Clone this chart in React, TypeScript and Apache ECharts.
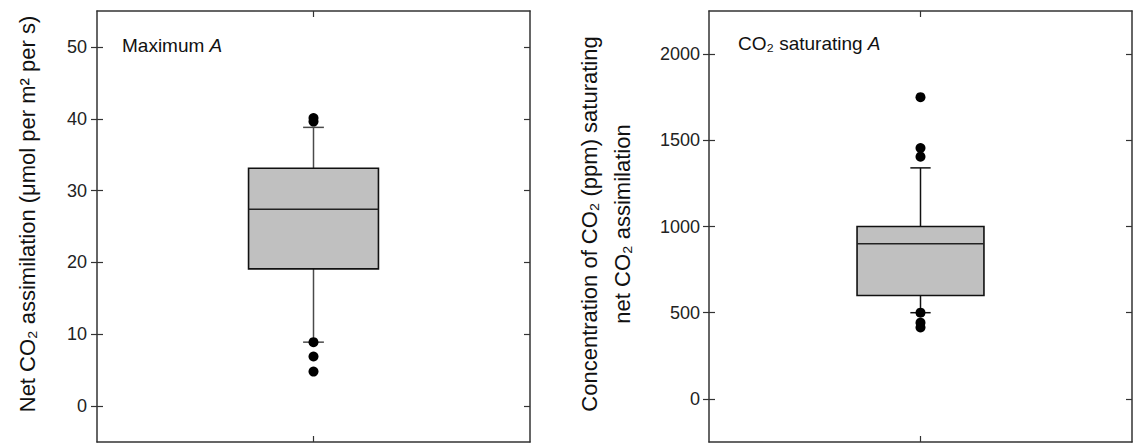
import React, { useEffect, useRef } from "react";
import * as echarts from "echarts";

// ---- data ----
const categoriesLeft = ["Maximum A"];
const categoriesRight = ["CO2 saturating A"];
// [category index, lower whisker, Q1, median, Q3, upper whisker]
const boxLeft = [[0, 8.9, 19.1, 27.4, 33.1, 38.8]];
const boxRight = [[0, 500, 600, 900, 1000, 1340]];
const outliersLeft = [[0, 40.1], [0, 39.6], [0, 8.9], [0, 6.9], [0, 4.8]];
const outliersRight = [[0, 1750], [0, 1455], [0, 1405], [0, 500], [0, 442], [0, 414]];
const ticksLeft = [0, 10, 20, 30, 40, 50];
const ticksRight = [0, 500, 1000, 1500, 2000];
const rangeLeft = [-5, 55];
const rangeRight = [-250, 2250];

const FONT = "'Liberation Sans', Arial, 'DejaVu Sans', sans-serif";
const AXIS_COLOR = "#333333";

function makeRender(whiskerColor: string) {
  return (params: any, api: any) => {
    const x = api.value(0);
    const low = api.coord([x, api.value(1)]);
    const q1 = api.coord([x, api.value(2)]);
    const med = api.coord([x, api.value(3)]);
    const q3 = api.coord([x, api.value(4)]);
    const high = api.coord([x, api.value(5)]);
    const band = api.size([1, 0])[0];
    const hw = band * 0.15;
    const cw = band * 0.024;
    const cx = med[0];
    return {
      type: "group",
      children: [
        { type: "line", shape: { x1: cx, y1: q3[1], x2: cx, y2: high[1] }, style: { stroke: whiskerColor, lineWidth: 1.5 } },
        { type: "line", shape: { x1: cx, y1: q1[1], x2: cx, y2: low[1] }, style: { stroke: whiskerColor, lineWidth: 1.5 } },
        { type: "line", shape: { x1: cx - cw, y1: high[1], x2: cx + cw, y2: high[1] }, style: { stroke: whiskerColor, lineWidth: 1.5 } },
        { type: "line", shape: { x1: cx - cw, y1: low[1], x2: cx + cw, y2: low[1] }, style: { stroke: whiskerColor, lineWidth: 1.5 } },
        { type: "rect", shape: { x: cx - hw, y: q3[1], width: hw * 2, height: q1[1] - q3[1] }, style: { fill: "#c0c0c0", stroke: "#111", lineWidth: 1.6 } },
        { type: "line", shape: { x1: cx - hw, y1: med[1], x2: cx + hw, y2: med[1] }, style: { stroke: "#222", lineWidth: 1.4 } },
      ],
    };
  };
}

function xAxes(gridIndex: number, data: string[]) {
  const common = {
    gridIndex,
    type: "category",
    data,
    axisLine: { show: true, onZero: false, lineStyle: { color: AXIS_COLOR, width: 1.5 } },
    axisTick: { show: true, inside: true, alignWithLabel: true, length: 6, lineStyle: { color: AXIS_COLOR, width: 1.2 } },
    axisLabel: { show: false },
    splitLine: { show: false },
  };
  return [
    { ...common, position: "bottom" },
    { ...common, position: "top" },
  ];
}

function yAxes(gridIndex: number, range: number[], ticks: number[], margin: number) {
  const base = {
    gridIndex,
    type: "value",
    min: range[0],
    max: range[1],
    splitLine: { show: false },
    axisLine: { show: true, onZero: false, lineStyle: { color: AXIS_COLOR, width: 1.5 } },
  };
  return [
    {
      ...base,
      position: "left",
      axisTick: { show: true, inside: false, length: 6, customValues: ticks, lineStyle: { color: AXIS_COLOR, width: 1.2 } },
      axisLabel: {
        show: true,
        customValues: ticks,
        margin,
        fontSize: 18,
        color: "#222",
        fontFamily: FONT,
        formatter: (v: number) => String(v),
      },
    },
    {
      ...base,
      position: "right",
      axisTick: { show: true, inside: true, length: 6, customValues: ticks, lineStyle: { color: AXIS_COLOR, width: 1.2 } },
      axisLabel: { show: false },
    },
  ];
}

export default function App() {
  const ref = useRef<HTMLDivElement>(null);
  useEffect(() => {
    if (!ref.current) return;
    const chart = echarts.init(ref.current, undefined, { renderer: "svg" });
    const gL = { left: 97, top: 11, width: 433, height: 431 };
    const gR = { left: 709, top: 11, width: 423, height: 431 };
    const hiddenX = (gridIndex: number, data: string[]) => ({ gridIndex, type: "category", data, show: false });
    const innerLeftY = (gridIndex: number, range: number[], ticks: number[]) => ({
      gridIndex,
      type: "value",
      min: range[0],
      max: range[1],
      position: "left",
      splitLine: { show: false },
      axisLine: { show: false },
      axisLabel: { show: false },
      axisTick: { show: true, inside: true, length: 6, customValues: ticks, lineStyle: { color: AXIS_COLOR, width: 1.2 } },
    });
    chart.setOption({
      animation: false,
      backgroundColor: "#ffffff",
      textStyle: { fontFamily: FONT },
      grid: [
        { ...gL, containLabel: false },
        { ...gL, containLabel: false },
        { ...gR, containLabel: false },
        { ...gR, containLabel: false },
      ],
      xAxis: [
        ...xAxes(0, categoriesLeft),
        hiddenX(1, categoriesLeft),
        ...xAxes(2, categoriesRight),
        hiddenX(3, categoriesRight),
      ],
      yAxis: [
        ...yAxes(0, rangeLeft, ticksLeft, 10),
        innerLeftY(1, rangeLeft, ticksLeft),
        ...yAxes(2, rangeRight, ticksRight, 9),
        innerLeftY(3, rangeRight, ticksRight),
      ],
      series: [
        { type: "custom", xAxisIndex: 0, yAxisIndex: 0, renderItem: makeRender("#4a4a4a"), data: boxLeft, encode: { x: 0, y: [1, 2, 3, 4, 5] }, z: 2 },
        { type: "scatter", xAxisIndex: 0, yAxisIndex: 0, data: outliersLeft, symbolSize: 10, itemStyle: { color: "#000", opacity: 1 }, z: 3 },
        { type: "custom", xAxisIndex: 3, yAxisIndex: 4, renderItem: makeRender("#111111"), data: boxRight, encode: { x: 0, y: [1, 2, 3, 4, 5] }, z: 2 },
        { type: "scatter", xAxisIndex: 3, yAxisIndex: 4, data: outliersRight, symbolSize: 10, itemStyle: { color: "#000", opacity: 1 }, z: 3 },
      ],
      graphic: [
        {
          type: "text",
          x: 122,
          y: 45,
          style: {
            text: "Maximum {i|A}",
            font: `19px ${FONT}`,
            fill: "#111",
            verticalAlign: "middle",
            rich: { i: { fontStyle: "italic", fontSize: 19, fontFamily: FONT } },
          },
        },
        {
          type: "text",
          x: 738,
          y: 43,
          style: {
            text: "CO₂ saturating {i|A}",
            font: `19px ${FONT}`,
            fill: "#111",
            verticalAlign: "middle",
            rich: { i: { fontStyle: "italic", fontSize: 19, fontFamily: FONT } },
          },
        },
        {
          type: "text",
          x: 27,
          y: 214,
          rotation: Math.PI / 2,
          style: {
            text: "Net CO₂ assimilation (μmol per m² per s)",
            font: `22px ${FONT}`,
            fill: "#111",
            align: "center",
            verticalAlign: "middle",
          },
        },
        {
          type: "text",
          x: 606,
          y: 224,
          rotation: Math.PI / 2,
          style: {
            text: "Concentration of CO₂ (ppm) saturating\nnet CO₂ assimilation",
            font: `22px ${FONT}`,
            fill: "#111",
            align: "center",
            verticalAlign: "middle",
            lineHeight: 33,
          },
        },
      ],
    });
    return () => chart.dispose();
  }, []);
  return <div ref={ref} style={{ position: "absolute", left: 0, top: 0, width: 1134, height: 444 }} />;
}
